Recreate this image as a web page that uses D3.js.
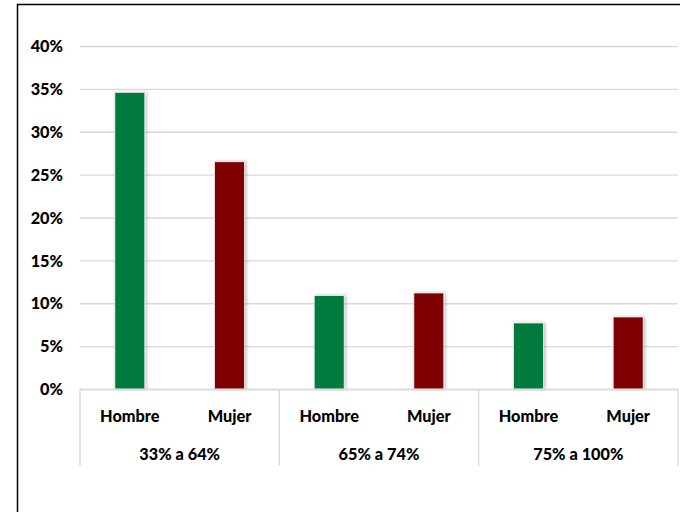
<!DOCTYPE html>
<html>
<head>
<meta charset="utf-8">
<script src="https://cdn.jsdelivr.net/npm/d3@7"></script>
<style>
  html, body { margin: 0; padding: 0; background: #fff; }
  svg { display: block; }
  text { font-family: Lato, "Open Sans", sans-serif; font-weight: 900; fill: #000; }
</style>
</head>
<body>
<svg id="chart" width="680" height="512"></svg>
<script>
// Disability-degree bands and sex breakdown (share of population, %)
const groups = ["33% a 64%", "65% a 74%", "75% a 100%"];
const sexes = ["Hombre", "Mujer"];
const hombre = [34.6, 10.9, 7.7];
const mujer = [26.5, 11.2, 8.4];
const yTicks = [0, 5, 10, 15, 20, 25, 30, 35, 40];
const colors = { Hombre: "#007A3D", Mujer: "#7F0000" };

const svg = d3.select("#chart");

const plot = { left: 80, right: 678, top: 46, bottom: 389 };
const fontSize = 16.3;

// Outer chart frame (top and left edges visible)
svg.append("path")
  .attr("d", `M17.5,512 L17.5,4.5 L680,4.5`)
  .attr("fill", "none").attr("stroke", "#000").attr("stroke-width", 1.5);

const defs = svg.append("defs");
const shadow = defs.append("filter").attr("id", "shadow")
  .attr("x", "-30%").attr("y", "-5%").attr("width", "160%").attr("height", "110%");
shadow.append("feDropShadow").attr("dx", 1.5).attr("dy", 0).attr("stdDeviation", 1.5)
  .attr("flood-color", "#000").attr("flood-opacity", 0.25);

const y = d3.scaleLinear().domain([0, 40]).range([plot.bottom, plot.top]);
const xGroup = d3.scaleBand().domain(groups).range([plot.left, plot.right]).padding(0);
const xSex = d3.scaleBand().domain(sexes).range([0, xGroup.bandwidth()]).padding(0);

// Gridlines and y labels
const yAxis = d3.axisLeft(y).tickValues(yTicks).tickFormat(d => d + "%")
  .tickSize(-(plot.right - plot.left)).tickPadding(17);
const ya = svg.append("g").attr("transform", `translate(${plot.left},0)`).call(yAxis);
ya.select(".domain").remove();
ya.selectAll(".tick line").attr("stroke", "#d9d9d9").attr("stroke-width", 1.3);
ya.selectAll(".tick text").attr("font-size", fontSize).attr("fill", "#000")
  .attr("font-family", "Lato, sans-serif").attr("font-weight", 900).attr("dy", "0.35em");

// Bars
const rows = groups.flatMap((g, i) => [
  { group: g, sex: "Hombre", value: hombre[i] },
  { group: g, sex: "Mujer", value: mujer[i] }
]);
const barW = 30;
svg.append("g").selectAll("rect").data(rows).join("rect")
  .attr("x", d => xGroup(d.group) + xSex(d.sex) + xSex.bandwidth() / 2 - barW / 2)
  .attr("y", d => y(d.value))
  .attr("width", barW)
  .attr("height", d => y(0) - y(d.value))
  .attr("fill", d => colors[d.sex])
  .attr("stroke", "#f2f2f2").attr("stroke-width", 0.8)
  .attr("filter", "url(#shadow)");

// Category axis: baseline, group separators, two label rows
const axisG = svg.append("g");
axisG.append("line")
  .attr("x1", plot.left).attr("x2", plot.right)
  .attr("y1", y(0) + 0.5).attr("y2", y(0) + 0.5)
  .attr("stroke", "#d9d9d9").attr("stroke-width", 1.3);
const seps = groups.map(g => xGroup(g)).concat([plot.right]);
axisG.selectAll("line.sep").data(seps).join("line").attr("class", "sep")
  .attr("x1", d => d).attr("x2", d => d)
  .attr("y1", y(0)).attr("y2", 466)
  .attr("stroke", "#d9d9d9").attr("stroke-width", 1.3);

axisG.selectAll("text.sex").data(rows).join("text").attr("class", "sex")
  .attr("x", d => xGroup(d.group) + xSex(d.sex) + xSex.bandwidth() / 2)
  .attr("y", 416).attr("dy", "0.35em")
  .attr("text-anchor", "middle").attr("font-size", fontSize)
  .text(d => d.sex);

axisG.selectAll("text.grp").data(groups).join("text").attr("class", "grp")
  .attr("x", d => xGroup(d) + xGroup.bandwidth() / 2)
  .attr("y", 454).attr("dy", "0.35em")
  .attr("text-anchor", "middle").attr("font-size", fontSize)
  .text(d => d);
</script>
</body>
</html>
